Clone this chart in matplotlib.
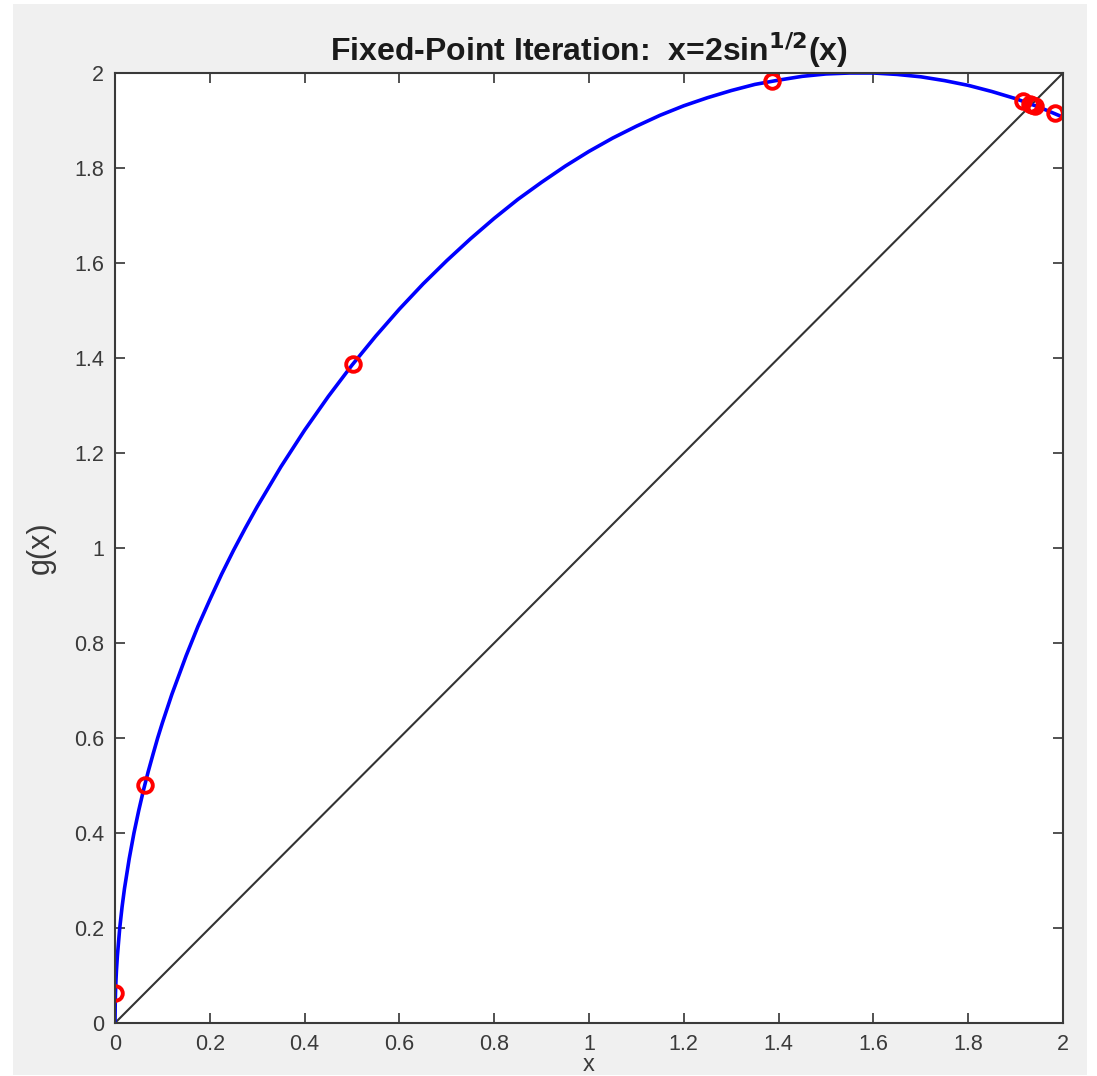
import matplotlib.pyplot as plt
from matplotlib.patches import Rectangle

# curve values
curve_x = [0.0, 0.0005, 0.001, 0.002, 0.003, 0.005, 0.01, 0.015, 0.02, 0.03,
           0.04, 0.05, 0.06, 0.07, 0.08, 0.09, 0.1, 0.12, 0.15, 0.175, 0.2,
           0.225, 0.25, 0.275, 0.3, 0.35, 0.4, 0.45, 0.5, 0.55, 0.6, 0.65, 0.7,
           0.75, 0.8, 0.85, 0.9, 0.95, 1.0, 1.05, 1.1, 1.15, 1.2, 1.25, 1.3,
           1.35, 1.4, 1.45, 1.5, 1.55, 1.6, 1.65, 1.7, 1.75, 1.8, 1.85, 1.9,
           1.95, 2.0]
curve_y = [0.0, 0.045, 0.063, 0.089, 0.110, 0.141, 0.200, 0.245, 0.283, 0.346,
           0.400, 0.447, 0.490, 0.529, 0.565, 0.600, 0.632, 0.692, 0.773, 0.835,
           0.891, 0.945, 0.995, 1.042, 1.087, 1.171, 1.248, 1.319, 1.385, 1.446,
           1.503, 1.556, 1.605, 1.651, 1.694, 1.734, 1.770, 1.804, 1.835, 1.863,
           1.888, 1.911, 1.931, 1.948, 1.963, 1.976, 1.985, 1.993, 1.998, 2.000,
           2.000, 1.997, 1.992, 1.984, 1.974, 1.961, 1.946, 1.928, 1.907]

# iteration points (red circles)
iter_x = [0.001, 0.063, 0.502, 1.387, 1.983, 1.915, 1.941, 1.931, 1.935]
iter_y = [0.063, 0.502, 1.387, 1.983, 1.915, 1.941, 1.931, 1.935, 1.933]

diag = [0, 2]
ticks = [0, 0.2, 0.4, 0.6, 0.8, 1, 1.2, 1.4, 1.6, 1.8, 2]
tick_labels = ["0", "0.2", "0.4", "0.6", "0.8", "1", "1.2", "1.4", "1.6", "1.8", "2"]

plt.rcParams['font.family'] = ['Liberation Sans', 'DejaVu Sans']

W, H = 1097, 1076
fig = plt.figure(figsize=(W / 100, H / 100), dpi=100, facecolor='white')
# grey window background, as in the screenshot
fig.patches.append(Rectangle((13 / W, 1 - 1075 / H), (1087 - 13) / W, (1075 - 4) / H,
                             transform=fig.transFigure, facecolor='#f0f0f0',
                             edgecolor='none', zorder=-10))

ax = fig.add_axes([115 / W, 1 - 1023 / H, (1063 - 115) / W, (1023 - 73) / H])
ax.set_facecolor('white')

ax.plot(diag, diag, color='#333333', lw=1.5)
ax.plot(curve_x, curve_y, color='#0000ff', lw=2.6, solid_joinstyle='round')
ax.plot(iter_x, iter_y, 'o', ms=10.5, mfc='none', mec='#ff0000', mew=2.8)

ax.set_xlim(0, 2)
ax.set_ylim(0, 2)
ax.set_xticks(ticks)
ax.set_xticklabels(tick_labels)
ax.set_yticks(ticks)
ax.set_yticklabels(tick_labels)
ax.tick_params(direction='in', length=7, width=1.2, colors='#333333',
               labelcolor='#3a3a3a', labelsize=15.5, top=True, right=True,
               pad=8)
for s in ax.spines.values():
    s.set_color('#3a3a3a')
    s.set_linewidth(1.5)

ax.set_title(r'Fixed-Point Iteration:  x=2sin$^{\mathbf{1/2}}$(x)',
             fontsize=23, fontweight='bold', color='#1a1a1a', pad=9)
ax.set_ylabel('g(x)', fontsize=22, color='#3a3a3a', labelpad=13)
ax.set_xlabel('x', fontsize=17, color='#3a3a3a', labelpad=-1)

fig.savefig('out.png', dpi=100, facecolor='white')
